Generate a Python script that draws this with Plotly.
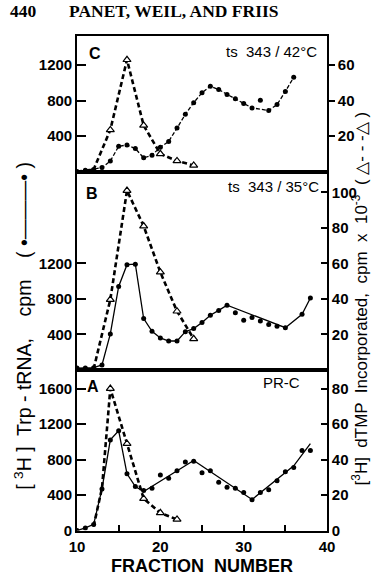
import plotly.graph_objects as go

W, H = 382, 582

# ---------------- data ----------------
# Panel C : ts 343 / 42 C
frac_c = list(range(10, 37))
trp_c = [0, 15, 25, 45, 119, 285, 300, 260, 155, 185, 275, 340, 490, 645, 777,
         888, 962, 925, 870, 822, 766, 718, 803, 688, 755, 903, 1062]
trp_c_off_curve = [32]
dtmp_c_frac = [10, 12, 14, 16, 18, 20, 22, 24]
dtmp_c = [0, 1.2, 23.5, 63, 26, 10, 6, 3.5]
dtmp_c_marked = [False, False, True, True, True, True, True, True]

# Panel B : ts 343 / 35 C
frac_b = list(range(10, 36)) + [37, 38]
trp_b = [20, 20, 25, 55, 405, 940, 1185, 1190, 578, 435, 360, 325, 325, 430,
         465, 534, 615, 670, 729, 644, 560, 589, 549, 512, 490, 475, 626, 810]
trp_b_off_curve = [29, 30, 31, 32, 33, 34]
dtmp_b_frac = [12, 14, 16, 18, 20, 22, 24]
dtmp_b = [0.5, 39.6, 101, 81, 55, 33, 17.5]
dtmp_b_marked = [False, True, True, True, True, True, True]

# Panel A : PR-C
frac_a = list(range(10, 39))
trp_a = [0, 30, 70, 470, 1022, 1125, 640, 496, 452, 478, 626, 589, 674, 774,
         781, 652, 674, 544, 489, 478, 430, 348, 430, 459, 563, 663, 711, 903, 903]
curve_a_frac = [10, 11, 12, 13, 14, 15, 16, 17, 18, 24, 31, 36, 38]
curve_a = [0, 30, 70, 470, 1022, 1125, 640, 496, 440, 790, 350, 730, 980]
dtmp_a_frac = [12, 13, 14, 16, 18, 20, 22]
dtmp_a = [2.5, 24, 80, 49, 18, 10, 6.3]
dtmp_a_marked = [False, False, True, True, True, True, True]

x_ticks = [10, 20, 30, 40]

# ---------------- layout geometry (pixels) ----------------
def px(x):
    return x / W

def py(y):
    return 1 - y / H

X0, X1 = 72, 333
A_bot, A_top = 538, 375
B_bot, B_top = 375, 174
C_bot, C_top = 174, 36
SCALE = 0.09  # px per cpm

BOLD_SANS = "Liberation Sans, Arial, sans-serif"
TICKFONT = dict(family=BOLD_SANS, size=15, color="black", weight="bold")
LINEW = 1.6

fig = go.Figure()


def add_panel(xa, yl, yr, fr, trp, curve_x, curve_y, dfr, dval, marked, dot_dash):
    fig.add_trace(go.Scatter(x=curve_x, y=curve_y, mode="lines",
                             line=dict(color="black", width=1.3, dash=dot_dash),
                             xaxis=xa, yaxis=yl, showlegend=False, hoverinfo="skip"))
    fig.add_trace(go.Scatter(x=fr, y=trp, mode="markers",
                             marker=dict(color="black", size=5, symbol="circle"),
                             xaxis=xa, yaxis=yl, showlegend=False))
    fig.add_trace(go.Scatter(x=dfr, y=dval, mode="lines",
                             line=dict(color="black", width=2.6, dash="5px,3px"),
                             xaxis=xa, yaxis=yr, showlegend=False, hoverinfo="skip"))
    mx = [f for f, m in zip(dfr, marked) if m]
    my = [v for v, m in zip(dval, marked) if m]
    fig.add_trace(go.Scatter(x=mx, y=my, mode="markers",
                             marker=dict(color="white", size=7, symbol="triangle-up",
                                         line=dict(color="black", width=1.2)),
                             xaxis=xa, yaxis=yr, showlegend=False))


def curve_from(fr, vals, off):
    cx = [f for f in fr if f not in off]
    cy = [v for f, v in zip(fr, vals) if f not in off]
    return cx, cy


cx, cy = curve_from(frac_c, trp_c, trp_c_off_curve)
add_panel("x3", "y5", "y6", frac_c, trp_c, cx, cy, dtmp_c_frac, dtmp_c, dtmp_c_marked, "4px,2px")
cx, cy = curve_from(frac_b, trp_b, trp_b_off_curve)
add_panel("x2", "y3", "y4", frac_b, trp_b, cx, cy, dtmp_b_frac, dtmp_b, dtmp_b_marked, "solid")
add_panel("x", "y", "y2", frac_a, trp_a, curve_a_frac, curve_a, dtmp_a_frac, dtmp_a, dtmp_a_marked, "solid")

xdom = [px(X0), px(X1)]


def xaxis(anchor, bottom):
    d = dict(domain=xdom, anchor=anchor, range=[10, 40], showline=True, mirror=True,
             linecolor="black", linewidth=LINEW, showgrid=False, zeroline=False,
             fixedrange=True)
    if bottom:
        d.update(tickmode="array", tickvals=x_ticks,
                 ticks="inside", ticklen=6, tickwidth=1.5, tickcolor="black",
                 tickfont=TICKFONT, ticklabelstandoff=2,
                 minor=dict(dtick=5, tick0=10, ticks="inside", ticklen=6,
                            tickwidth=1.5, tickcolor="black", showgrid=False))
    else:
        d.update(showticklabels=False, ticks="")
    return d


def yleft(bot, top, ticks):
    rng = (bot - top) / SCALE
    return dict(domain=[py(bot), py(top)], range=[0, rng],
                tickmode="array", tickvals=ticks, ticks="inside", ticklen=9,
                tickwidth=1.5, tickcolor="black", tickfont=TICKFONT,
                showline=True, linecolor="black", linewidth=LINEW,
                showgrid=False, zeroline=False, fixedrange=True)


def yright(over, bot, top, ticks, tdir):
    rng = (bot - top) / SCALE / 20
    return dict(overlaying=over, side="right", range=[0, rng],
                tickmode="array", tickvals=ticks, ticks=tdir, ticklen=6,
                tickwidth=1.5, tickcolor="black", tickfont=TICKFONT,
                showline=True, linecolor="black", linewidth=LINEW,
                showgrid=False, zeroline=False, fixedrange=True)


ya = yleft(A_bot, A_top, [0, 400, 800, 1200, 1600]); ya["anchor"] = "x"
yb = yleft(B_bot, B_top, [400, 800, 1200]); yb["anchor"] = "x2"
yc = yleft(C_bot, C_top, [400, 800, 1200]); yc["anchor"] = "x3"
ya2 = yright("y", A_bot, A_top, [0, 20, 40, 60, 80], "inside"); ya2["anchor"] = "x"
yb2 = yright("y3", B_bot, B_top, [20, 40, 60, 80, 100], "inside"); yb2["anchor"] = "x2"
yc2 = yright("y5", C_bot, C_top, [20, 40, 60], "outside"); yc2["anchor"] = "x3"

SANS = "Liberation Sans, Arial, sans-serif"
SERIF = "Liberation Serif, Times New Roman, serif"


def ann(text, x, y, size, family=SANS, xanchor="center", angle=0, weight="normal"):
    return dict(text=text, x=px(x), y=py(y), xref="paper", yref="paper",
                xanchor=xanchor, yanchor="middle", showarrow=False, textangle=angle,
                font=dict(family=family, size=size, color="black", weight=weight))


annotations = [
    ann("440", 0, 11, 17.5, family=SERIF, xanchor="left", weight="bold"),
    ann("PANET, WEIL, AND FRIIS", 62, 11, 17.5, family=SERIF, xanchor="left", weight="bold"),
    ann("C", 91, 54, 16, family=BOLD_SANS, weight="bold"),
    ann("B", 88, 196, 16, family=BOLD_SANS, weight="bold"),
    ann("A", 89, 392, 16, family=BOLD_SANS, weight="bold"),
    ann("ts  343 / 42°C", 275, 52, 15),
    ann("ts  343 / 35°C", 277, 189, 15),
    ann("PR-C", 285, 388, 15),
    ann("FRACTION  NUMBER", 202, 574, 18, family=BOLD_SANS, weight="bold"),
    ann("[ <sup>3</sup>H ]  Trp - tRNA,    cpm    ( •———• )", 16, 330, 19.5, angle=-90),
    ann("[<sup>3</sup>H]  dTMP  Incorporated,  cpm  x  10<sup>-3</sup>  ( △- - -△ )", 367, 303, 17, angle=-90),
]

fig.update_layout(
    width=W, height=H, autosize=False,
    margin=dict(l=0, r=0, t=0, b=0, pad=0),
    paper_bgcolor="white", plot_bgcolor="white",
    xaxis=xaxis("y", True), xaxis2=xaxis("y3", False), xaxis3=xaxis("y5", False),
    yaxis=ya, yaxis2=ya2, yaxis3=yb, yaxis4=yb2, yaxis5=yc, yaxis6=yc2,
    annotations=annotations, showlegend=False,
)

fig.write_html("out.html")
